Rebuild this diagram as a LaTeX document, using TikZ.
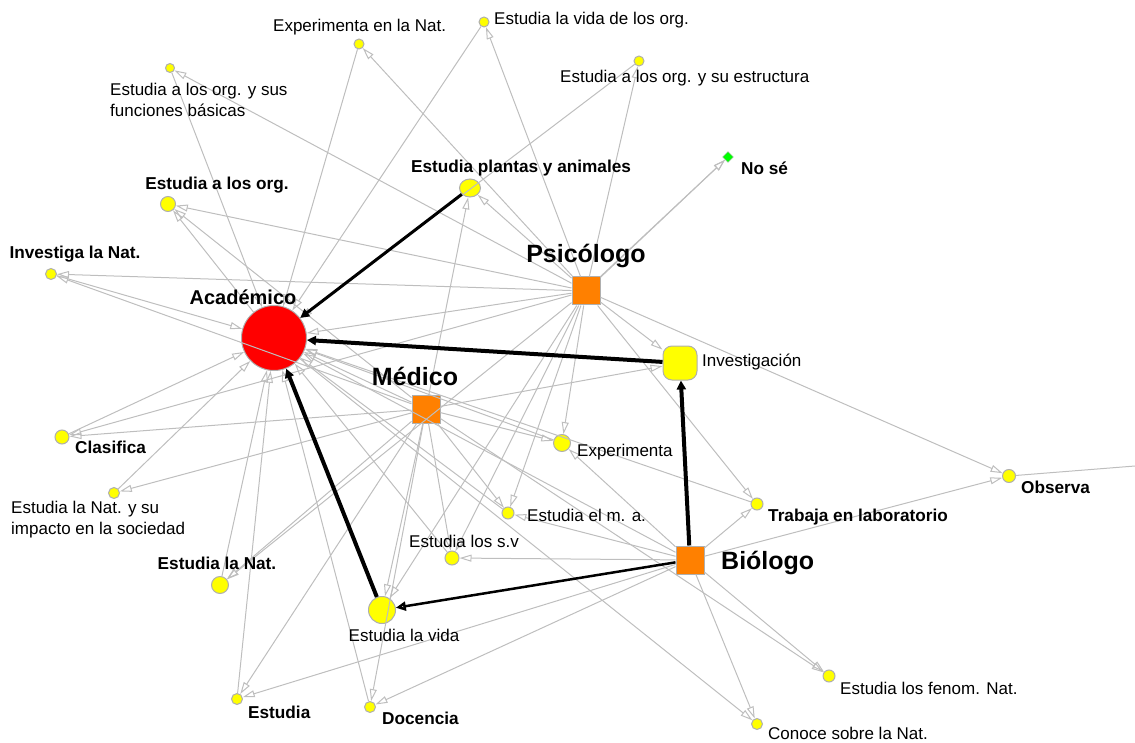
\documentclass[tikz,border=0pt]{standalone}
\usepackage{fontspec}
\setmainfont{Liberation Sans}
\usetikzlibrary{shapes}
\usetikzlibrary{arrows.meta}

\definecolor{nodeyel}{RGB}{255,255,0}
\definecolor{roleorg}{RGB}{255,128,0}
\definecolor{edgegray}{RGB}{190,190,190}
\definecolor{rimgray}{RGB}{175,175,175}

\begin{document}
\begin{tikzpicture}[x=1pt,y=-1pt,
    conc/.style={circle,fill=nodeyel,draw=rimgray,line width=1pt,inner sep=0pt,minimum size=#1},
    role/.style={rectangle,fill=roleorg,draw=rimgray,line width=1pt,inner sep=0pt,minimum size=28pt},
    txt/.style={inner sep=0pt,font=\fontsize{17}{21}\selectfont},
    btxt/.style={inner sep=0pt,font=\fontsize{17.2}{21}\selectfont\bfseries},
    big/.style={inner sep=0pt,font=\fontsize{25}{29}\selectfont\bfseries},
    edge/.style={draw=edgegray,line width=1pt,-{Triangle[open,length=12pt,width=7pt]}},
    heavy/.style={draw=black,line width=#1,-{Triangle[length=9pt,width=9pt]}}]
  \useasboundingbox (0,0) rectangle (1135,743);

  % roles
  \node[circle,fill=red,draw=rimgray,line width=1pt,minimum size=65pt,inner sep=0pt] (acad) at (274,338) {};
  \node[role] (psic) at (586,291) {};
  \node[role] (med) at (426,409) {};
  \node[role] (bio) at (690,560) {};
  \node[rectangle,rounded corners=9pt,fill=nodeyel,draw=rimgray,line width=1pt,minimum size=34pt,inner sep=0pt] (inv) at (680,363) {};

  % answers
  \node[conc=9pt] (orgfun) at (170,68) {};
  \node[conc=10pt] (expnat) at (359,44) {};
  \node[conc=10pt] (vidaorg) at (484,22) {};
  \node[conc=10pt] (orgest) at (639,61) {};
  \node[diamond,fill=green,draw=rimgray,inner sep=0pt,minimum size=11pt] (nose) at (728,157) {};
  \node[ellipse,fill=nodeyel,draw=rimgray,line width=1pt,inner sep=0pt,minimum width=21pt,minimum height=18pt] (plant) at (470,188) {};
  \node[conc=15pt] (orgs) at (168,204) {};
  \node[conc=11pt] (invnat) at (51,274) {};
  \node[conc=14pt] (clas) at (62,437) {};
  \node[conc=11pt] (natimp) at (114,493) {};
  \node[conc=17pt] (estnat) at (220,585) {};
  \node[conc=11pt] (estudia) at (237,699) {};
  \node[conc=11pt] (docencia) at (370,707) {};
  \node[conc=27pt] (vida) at (382,610) {};
  \node[conc=14pt] (sv) at (452,558) {};
  \node[conc=12pt] (ma) at (508,513) {};
  \node[conc=17pt] (exper) at (562,443) {};
  \node[conc=12pt] (lab) at (757,504) {};
  \node[conc=13pt] (observa) at (1009,476) {};
  \node[conc=12pt] (fenom) at (829,676) {};
  \node[conc=11pt] (conoce) at (757,724) {};
  \coordinate (offright) at (1135,466);

  % gray links
  \foreach \a/\b in {psic/orgfun,psic/expnat,psic/vidaorg,psic/orgest,psic/nose,psic/plant,
      psic/orgs,psic/invnat,psic/acad,psic/inv,psic/exper,psic/ma,psic/sv,psic/vida,psic/lab,
      psic/observa,psic/estnat,psic/clas,
      med/acad,med/plant,med/orgs,med/invnat,med/clas,med/natimp,med/estnat,med/estudia,
      med/docencia,med/vida,med/sv,med/ma,med/exper,med/inv,med/fenom,
      bio/sv,bio/lab,bio/observa,bio/fenom,bio/conoce,bio/docencia,bio/estudia,bio/exper,bio/ma,bio/acad,
      orgfun/acad,expnat/acad,vidaorg/acad,orgest/acad,invnat/acad,clas/acad,natimp/acad,
      estnat/acad,estudia/acad,docencia/acad,exper/acad,ma/acad,sv/acad,lab/acad,
      acad/orgs,acad/conoce}
    \draw[edge] (\a) -- (\b);
  \draw[edge] (psic.north east) -- (nose);
  \draw[draw=edgegray,line width=1pt] (observa) -- (offright);

  % heavy links
  \draw[heavy=3pt] (plant) -- (acad);
  \draw[heavy=4pt] (inv) -- (acad);
  \draw[heavy=4pt] (vida) -- (acad);
  \draw[heavy=4pt] (bio) -- (inv);
  \draw[draw=black,line width=2.5pt,-{Triangle[open,length=10pt,width=9pt]}] (bio) -- (vida);

  % labels
  \node[big,font=\fontsize{20}{24}\selectfont\bfseries] (lacad) at (243,297) {Académico};
  \node[big] (lpsic) at (586,256) {Psicólogo};
  \node[big] (lmed) at (415,376) {Médico};
  \node[big,anchor=west] (lbio) at (721,563) {Biólogo};
  \node[txt,anchor=west] (linv) at (702,362) {Investigación};
  \node[btxt] (lplant) at (521,168) {Estudia plantas y animales};
  \node[btxt] (lorgs) at (217,185) {Estudia a los org.};
  \node[btxt] (linvnat) at (75,254) {Investiga la Nat.};
  \node[btxt,anchor=west] (lclas) at (75,447) {Clasifica};
  \node[txt,anchor=north west,align=left] (lnatimp) at (11,501) {Estudia la Nat. y su\\impacto en la sociedad};
  \node[btxt] (lestnat) at (217,563) {Estudia la Nat.};
  \node[btxt,anchor=west] (lestudia) at (248,712) {Estudia};
  \node[btxt,anchor=west] (ldocencia) at (382,718) {Docencia};
  \node[txt] (lvida) at (404,635) {Estudia la vida};
  \node[txt,anchor=west] (lsv) at (409,541) {Estudia los s.v};
  \node[txt,anchor=west] (lma) at (527,515) {Estudia el m. a.};
  \node[txt,anchor=west] (lexper) at (577,452) {Experimenta};
  \node[btxt,anchor=west] (llab) at (768,517) {Trabaja en laboratorio};
  \node[btxt,anchor=west] (lobserva) at (1021,487) {Observa};
  \node[txt,anchor=west] (lfenom) at (840,688) {Estudia los fenom. Nat.};
  \node[txt,anchor=west] (lconoce) at (768,733) {Conoce sobre la Nat.};
  \node[btxt,anchor=west] (lnose) at (741,168) {No sé};
  \node[txt,anchor=west] (lorgest) at (560,78) {Estudia a los org. y su estructura};
  \node[txt,anchor=west] (lvidaorg) at (494,20) {Estudia la vida de los org.};
  \node[txt,anchor=west] (lexpnat) at (273,27) {Experimenta en la Nat.};
  \node[txt,anchor=north west,align=left] (lorgfun) at (110,83) {Estudia a los org. y sus\\funciones básicas};
\end{tikzpicture}
\end{document}
